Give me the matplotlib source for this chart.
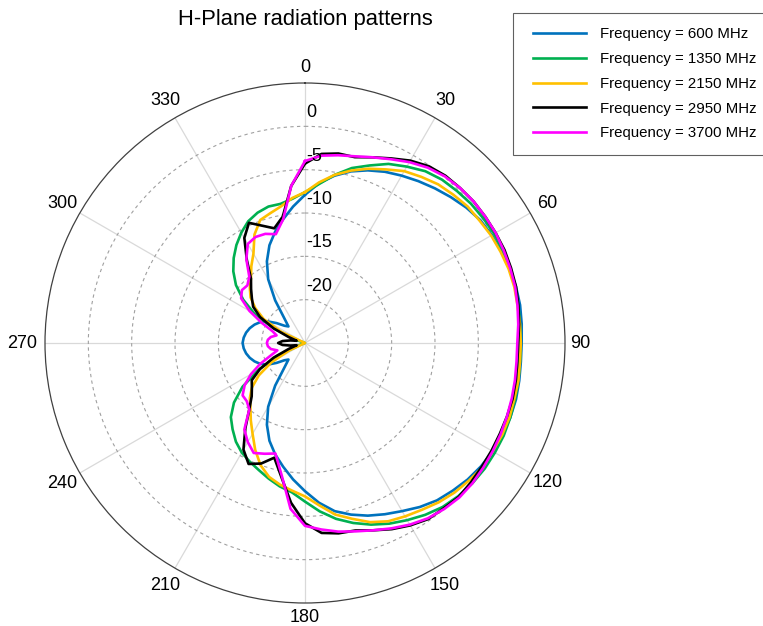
""" H-plane radiation patterns, polar plot in dB """

import numpy as np
import matplotlib.pyplot as plt
from matplotlib.transforms import offset_copy
from matplotlib.legend_handler import HandlerLine2D
from matplotlib.lines import Line2D

plt.rcParams['font.family'] = ['Liberation Sans', 'DejaVu Sans']

# sample angles (deg), 5 deg steps, clockwise from top
angles_deg = np.arange(0, 360, 5)

# normalised gain (dB), one value per angle
gain_600 = [-7.9, -6.5, -5.4, -4.5, -3.8, -3.2, -2.7, -2.2, -1.7, -1.2, -0.7, -0.3, -0.1, 0.0, 0.1, 0.2, 0.2, 0.1,
            0.0, 0.0, 0.1, 0.2, 0.2, 0.1, 0.0, -0.2, -0.5, -0.9, -1.3, -1.9, -2.6, -3.2, -3.8, -4.5, -5.3, -6.5,
            -7.9, -9.2, -10.5, -11.7, -13.0, -14.6, -16.5, -19.0, -21.3, -22.3, -21.9, -21.0, -20.0, -19.3, -18.8, -18.4, -18.1, -17.9,
            -17.8, -17.9, -18.1, -18.4, -18.8, -19.3, -20.0, -21.0, -21.9, -22.3, -21.3, -19.0, -16.5, -14.6, -13.0, -11.7, -10.5, -9.2]
gain_1350 = [-7.6, -6.6, -5.3, -4.1, -3.2, -2.2, -1.5, -0.8, -0.4, -0.2, 0.0, 0.1, 0.2, 0.2, 0.2, 0.1, 0.0, -0.1,
             -0.1, -0.1, 0.0, 0.1, 0.2, 0.3, 0.3, 0.3, 0.2, 0.0, -0.3, -0.8, -1.4, -2.0, -2.7, -3.5, -4.4, -5.5,
             -6.7, -7.7, -8.2, -8.8, -9.4, -9.9, -10.4, -11.1, -12.0, -12.9, -14.3, -16.2, -18.8, -21.5, -24.5, -30, -30, -30,
             -30, -30, -30, -30, -24.0, -21.0, -18.3, -16.3, -14.6, -13.3, -12.2, -11.2, -10.3, -9.5, -9.0, -8.7, -8.7, -8.3]
gain_2150 = [-7.6, -6.4, -5.3, -4.4, -3.6, -2.9, -2.1, -1.6, -1.1, -0.8, -0.5, -0.4, -0.2, -0.1, 0.0, 0.0, -0.1, -0.1,
             -0.1, -0.1, 0.0, 0.0, 0.1, 0.1, 0.0, 0.0, -0.3, -0.6, -1.0, -1.5, -1.9, -2.3, -3.0, -4.0, -4.9, -6.2,
             -7.3, -7.9, -8.4, -9.0, -10.0, -11.4, -12.9, -14.1, -15.2, -16.0, -17.0, -18.5, -20.5, -23.0, -30, -30, -30, -30,
             -30, -30, -30, -30, -30, -22.0, -19.5, -18.0, -16.8, -16.0, -15.3, -14.2, -13.1, -11.2, -9.9, -9.5, -9.0, -8.2]
gain_2950 = [-4.3, -3.1, -2.8, -2.8, -2.2, -1.5, -0.7, -0.1, 0.2, 0.3, 0.4, 0.4, 0.4, 0.4, 0.3, 0.2, 0.0, -0.2,
             -0.4, -0.4, -0.3, -0.2, -0.2, -0.2, -0.15, -0.1, 0.0, 0.1, -0.1, -0.2, -0.7, -1.3, -2.0, -2.6, -2.7, -3.0,
             -4.2, -6.5, -9.3, -11.3, -10.2, -9.6, -10.8, -13.0, -15.0, -16.3, -17.0, -17.5, -19.0, -21.0, -23.0, -24.0, -23.3, -22.4,
             -21.9, -22.4, -23.3, -24.0, -23.0, -21.0, -19.0, -17.7, -17.0, -16.2, -15.3, -13.3, -11.0, -9.7, -10.6, -11.3, -10.2, -6.8]
gain_3700 = [-4.0, -3.3, -3.0, -2.7, -2.2, -1.6, -0.9, -0.3, 0.1, 0.3, 0.4, 0.4, 0.4, 0.3, 0.2, 0.1, -0.1, -0.3,
             -0.5, -0.5, -0.4, -0.3, -0.2, -0.1, 0.0, 0.1, 0.2, 0.2, 0.0, -0.3, -0.8, -1.4, -2.0, -2.5, -2.9, -3.4,
             -3.9, -5.8, -9.5, -11.8, -11.4, -11.0, -11.8, -12.8, -15.0, -15.5, -15.6, -16.5, -17.8, -19.3, -20.8, -21.7, -21.0, -20.7,
             -20.6, -20.7, -21.0, -21.6, -21.0, -19.5, -17.6, -16.0, -15.5, -15.6, -15.0, -13.2, -11.8, -11.5, -11.6, -12.0, -10.5, -6.8]

series = [gain_600, gain_1350, gain_2150, gain_2950, gain_3700]
labels = ['Frequency = 600 MHz', 'Frequency = 1350 MHz', 'Frequency = 2150 MHz',
          'Frequency = 2950 MHz', 'Frequency = 3700 MHz']
colors = ['#0072BD', '#00B050', '#FFC000', '#000000', '#FF00FF']

r_min, r_max = -25, 5
r_ticks = [-20, -15, -10, -5, 0]
theta_ticks = list(range(0, 360, 30))

fig = plt.figure(figsize=(7.63, 6.26), dpi=100)
ax = fig.add_axes([45 / 763, 23 / 626, 520 / 763, 520 / 626], projection='polar')
ax.set_theta_zero_location('N')
ax.set_theta_direction(-1)

theta = np.deg2rad(np.append(angles_deg, 360))
for g, c, lab in zip(series, colors, labels):
    r = np.clip(np.append(g, g[0]), r_min, None)   # below r_min sits at the centre
    ax.plot(theta, r, color=c, lw=1.9, label=lab)

ax.set_ylim(r_min, r_max)
ax.set_yticks(r_ticks)
ax.set_yticklabels([])
ax.set_thetagrids(theta_ticks, labels=[''] * len(theta_ticks))
ax.xaxis.grid(True, color='#d9d9d9', lw=0.9, ls='-')
ax.yaxis.grid(True, color='#a0a0a0', lw=0.8, ls=(0, (3, 3)))
ax.spines['polar'].set_color('#404040')
ax.spines['polar'].set_linewidth(0.9)

# angle labels just outside the edge; gap in px (matlab puts them unevenly)
px_per_db = 260 / (r_max - r_min)
label_gap = {0: 15, 90: 15, 180: 15, 270: 23}
for t in theta_ticks:
    r_lab = r_max + label_gap.get(t, 20) / px_per_db
    ax.text(np.deg2rad(t), r_lab, str(t), ha='center', va='center', fontsize=13, clip_on=False)

# r labels sit just right of the 0 deg line, above their circle
trans = offset_copy(ax.transData, fig=fig, x=1, y=9, units='dots')
for rt in r_ticks:
    ax.text(0, rt, str(rt), transform=trans, ha='left', va='baseline', fontsize=13)

fig.text(305 / 763, 1 - 20 / 626, 'H-Plane radiation patterns', ha='center', va='center', fontsize=15.8)

leg = fig.legend(loc='upper left', bbox_to_anchor=(513 / 763, 1 - 13 / 626), bbox_transform=fig.transFigure,
                 fontsize=10.8, frameon=True, fancybox=False, edgecolor='#606060', framealpha=1,
                 numpoints=2, handler_map={Line2D: HandlerLine2D(marker_pad=0.4)},
                 handlelength=4.3, handletextpad=0.57, labelspacing=0.72, borderpad=0.95, borderaxespad=0)
leg.get_frame().set_linewidth(0.8)

fig.savefig('out.png', dpi=100)
